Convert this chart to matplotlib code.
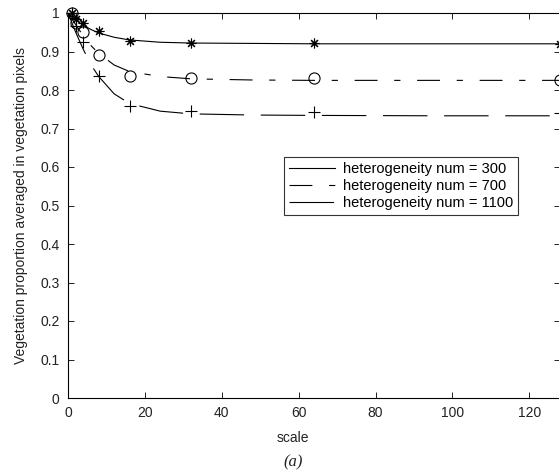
import matplotlib
matplotlib.use("Agg")
import matplotlib.pyplot as plt

plt.rcParams['font.family'] = ['Liberation Sans', 'DejaVu Sans']
plt.rcParams['lines.scale_dashes'] = False

# measured data points (markers)
scale_pts = [1, 2, 4, 8, 16, 32, 64, 128]
het300_pts = [1.0, 0.985, 0.975, 0.952, 0.927, 0.922, 0.921, 0.920]
het700_pts = [1.0, 0.975, 0.950, 0.892, 0.836, 0.831, 0.830, 0.826]
het1100_pts = [1.0, 0.965, 0.924, 0.836, 0.758, 0.745, 0.744, 0.740]

# fitted curves
scale_fit = [0, 1, 2, 4, 6, 8, 12, 16, 24, 32, 48, 64, 96, 128]
het300_fit = [1.0, 0.990, 0.982, 0.968, 0.957, 0.948, 0.937, 0.930, 0.924, 0.922, 0.921, 0.920, 0.920, 0.920]
het700_fit = [1.0, 0.985, 0.970, 0.940, 0.915, 0.895, 0.865, 0.848, 0.835, 0.829, 0.826, 0.825, 0.825, 0.825]
het1100_fit = [1.0, 0.975, 0.950, 0.905, 0.865, 0.835, 0.790, 0.765, 0.745, 0.738, 0.735, 0.734, 0.733, 0.733]

labels = ['heterogeneity num = 300', 'heterogeneity num = 700', 'heterogeneity num = 1100']
xticks = [0, 20, 40, 60, 80, 100, 120]
yticks = [0, 0.1, 0.2, 0.3, 0.4, 0.5, 0.6, 0.7, 0.8, 0.9, 1.0]
yticklabels = ['0', '0.1', '0.2', '0.3', '0.4', '0.5', '0.6', '0.7', '0.8', '0.9', '1']

W, H = 559, 475
fig = plt.figure(figsize=(W / 100, H / 100), dpi=100)
ax = fig.add_axes([68 / W, 77 / H, 492 / W, 385 / H])

lw = 0.8
k = 'black'
l1, = ax.plot(scale_fit, het300_fit, color=k, lw=lw, linestyle='-')
l2, = ax.plot(scale_fit, het700_fit, color=k, lw=lw, linestyle=(0, (16.5, 12, 4.5, 12)))
l3, = ax.plot(scale_fit, het1100_fit, color=k, lw=lw, linestyle=(0, (32, 12)))

ax.plot(scale_pts, het300_pts, linestyle='none', marker=(8, 2, 0), ms=7, mec=k, mew=0.8, clip_on=False)
ax.plot(scale_pts, het700_pts, linestyle='none', marker='o', ms=8, mfc='none', mec=k, mew=0.8, clip_on=False)
ax.plot(scale_pts, het1100_pts, linestyle='none', marker='+', ms=8, mec=k, mew=0.8, clip_on=False)

ax.set_xlim(0, 128)
ax.set_ylim(0, 1)
ax.set_xticks(xticks)
ax.set_yticks(yticks)
ax.set_yticklabels(yticklabels)
ax.tick_params(direction='in', length=4, width=0.7, top=True, right=True,
               labelsize=10, colors='#222222', pad=6)
for s in ax.spines.values():
    s.set_linewidth(0.8)

ax.set_xlabel('scale', fontsize=10, color='#222222')
ax.set_ylabel('Vegetation proportion averaged in vegetation pixels', fontsize=10, color='#222222')
ax.xaxis.set_label_coords((293 - 68) / 492, -0.085)
ax.yaxis.set_label_coords(-0.082, 0.5)

leg = ax.legend([l1, l2, l3], labels, loc='upper right',
                bbox_to_anchor=(518 / W, 1 - 157 / H), bbox_transform=fig.transFigure,
                fontsize=10.5, frameon=True, fancybox=False, handlelength=3.2,
                borderpad=0.35, labelspacing=0.2, handletextpad=0.5, borderaxespad=0)
leg.get_frame().set_edgecolor('black')
leg.get_frame().set_linewidth(0.8)

fig.text(293 / W, 1 - 462 / H, '(a)', fontsize=12, family='Liberation Serif',
         style='italic', ha='center', va='center', color='#222222')

fig.savefig('out.png', dpi=100)
